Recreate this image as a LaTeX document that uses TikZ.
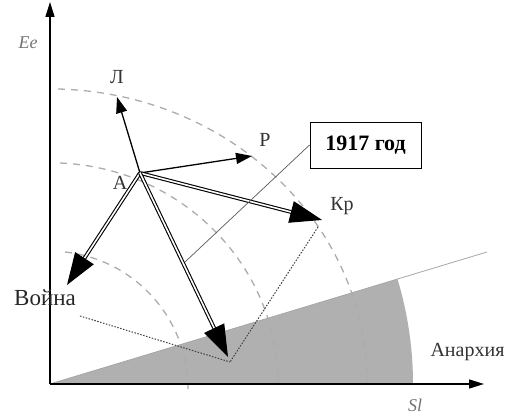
\documentclass[tikz,border=0pt]{standalone}
\usepackage{fontspec}
\setmainfont{Liberation Serif}
\usetikzlibrary{arrows.meta}
\tikzset{
  axis/.style     = {line width=1.5pt, -{Triangle[length=15pt,width=9pt]}},   % Ee / Sl axes
  guide/.style    = {gray!65, line width=1.3pt, dash pattern=on 7pt off 6pt},
  thinvec/.style  = {line width=1.3pt, -{Triangle[length=16pt,width=11pt]}},
  bigvec/.style   = {draw=black, double=white, double distance=1.6pt,
                     line width=1.1pt, -{Triangle[length=32pt,width=22pt]}},
  proj/.style     = {gray!50!black, line width=1pt, dash pattern=on 1.5pt off 1.5pt},
  lbl/.style      = {font=\fontsize{20}{20}\selectfont, text=black!80},
  big/.style      = {font=\fontsize{23}{23}\selectfont, text=black!85},
  axlbl/.style    = {font=\fontsize{18}{18}\selectfont\itshape, text=black!55}
}

\begin{document}
\begin{tikzpicture}[x=1pt, y=1pt]
  \useasboundingbox (-50,-35) rectangle (459,384);
  % anarchy sector
  \fill[gray!62] (0,0) -- (363,0) arc[start angle=0, end angle=16.8, radius=363] -- cycle;
  \coordinate (O) at (0,0);
  \coordinate (edge) at (437,132);
  \draw[gray!70, line width=0.8pt] (O) -- (edge);
  % level curves
  \draw[guide] (8,295) arc[start angle=88.4, end angle=0, x radius=318, y radius=295];
  \draw[guide] (10,221) arc[start angle=87.5, end angle=0, x radius=228, y radius=221];
  \draw[guide] (15,132) arc[start angle=83.8, end angle=0, radius=138];
  % axes
  \coordinate (ytop) at (0,382);
  \coordinate (xend) at (434,0);
  \draw[axis] (O) -- (ytop);
  \draw[axis] (O) -- (xend);
  \node[axlbl] (ee) at (-22,341) {Ee};
  \node[axlbl] (sl) at (365,-21) {Sl};
  % vectors from A
  \coordinate (A) at (90,211);
  \coordinate (l) at (67,287);
  \coordinate (r) at (202,228);
  \coordinate (kr) at (272,164);
  \coordinate (war) at (17,99);
  \coordinate (res) at (178,27);
  \coordinate (meet) at (180,22);
  \draw[proj] (268,157) -- (meet);
  \draw[proj] (30,68) -- (meet);
  \draw[thinvec] (A) -- (l);
  \draw[thinvec] (A) -- (r);
  \draw[bigvec] (A) -- (kr);
  \draw[bigvec] (A) -- (war);
  \draw[bigvec] (A) -- (res);
  \node[lbl] (lA) at (70,201) {А};
  \node[lbl] (lL) at (67,307) {Л};
  \node[lbl] (lR) at (215,244) {Р};
  \node[lbl] (lKr) at (292,178) {Кр};
  \node[big] (lWar) at (-5,86) {Война};
  \node[lbl, anchor=east] (lAn) at (458,32) {Анархия};
  % 1917 callout
  \node[draw, line width=0.9pt, minimum width=111pt, minimum height=46pt,
        font=\fontsize{22}{22}\selectfont\bfseries] (y1917) at (315.5,239) {1917 год};
  \coordinate (hit) at (135,122);
  \draw[gray!70!black, line width=0.7pt] (y1917.west) -- (hit);
\end{tikzpicture}
\end{document}
